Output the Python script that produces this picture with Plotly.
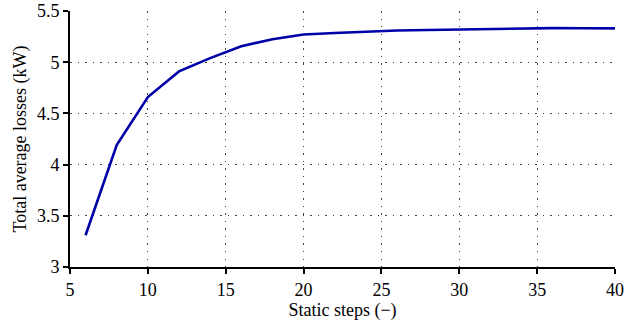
import plotly.graph_objects as go

# Total average losses versus number of static steps
static_steps = [6, 8, 10, 12, 14, 16, 18, 20, 22, 24, 26, 28, 30, 32, 34, 36, 38, 40]
avg_losses_kw = [3.31, 4.19, 4.66, 4.91, 5.04, 5.155, 5.225, 5.27, 5.285, 5.30, 5.31, 5.315,
                 5.32, 5.325, 5.33, 5.333, 5.332, 5.33]

x_ticks = [5, 10, 15, 20, 25, 30, 35, 40]
y_ticks = [3, 3.5, 4, 4.5, 5, 5.5]
y_tick_text = ["3", "3.5", "4", "4.5", "5", "5.5"]

font_family = "Liberation Serif, Times New Roman, serif"

fig = go.Figure(
    go.Scatter(
        x=static_steps,
        y=avg_losses_kw,
        mode="lines",
        line=dict(color="#0000A8", width=2.6),
        showlegend=False,
    )
)

axis_common = dict(
    showline=True,
    linecolor="black",
    linewidth=2,
    ticks="outside",
    ticklen=5,
    tickwidth=2,
    tickcolor="black",
    showgrid=True,
    gridcolor="#444444",
    gridwidth=1,
    griddash="1.5px,6px",
    zeroline=False,
    tickfont=dict(family=font_family, size=18, color="black"),
    mirror=False,
    automargin=False,
)

fig.update_xaxes(
    range=[5, 40],
    tickvals=x_ticks,
    title=dict(text="Static steps (\u2212)", font=dict(family=font_family, size=18, color="black"), standoff=2),
    **axis_common,
)
fig.update_yaxes(
    range=[3, 5.5],
    tickvals=y_ticks,
    ticktext=y_tick_text,
    title=dict(text="Total average losses (kW)", font=dict(family=font_family, size=18, color="black"), standoff=6),
    **axis_common,
)

fig.update_layout(
    width=627,
    height=322,
    margin=dict(l=70, r=12, t=11, b=55),
    paper_bgcolor="white",
    plot_bgcolor="white",
)

fig.write_html("out.html")
